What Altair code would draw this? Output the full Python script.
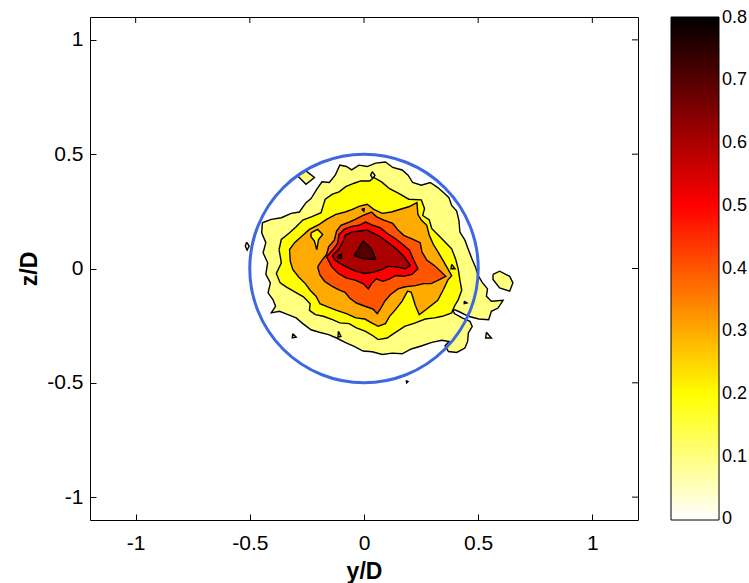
import altair as alt
import pandas as pd

# ---------------- data ----------------
x_ticks = [-1, -0.5, 0, 0.5, 1]
z_ticks = [-1, -0.5, 0, 0.5, 1]
cbar_ticks = [0.001, 0.1, 0.2, 0.3, 0.4, 0.5, 0.6, 0.7, 0.799]
contour_levels = [0.1, 0.2, 0.3, 0.4, 0.5, 0.6, 0.7]

# level 0.1 main region (y/D, z/D)
c1_y = [-0.445, -0.406, -0.362, -0.319, -0.283, -0.254, -0.232, -0.207, -0.184, -0.152,
        -0.126, -0.106, -0.077, -0.054, -0.022, 0.014, 0.051, 0.094, 0.126, 0.167,
        0.193, 0.213, 0.251, 0.290, 0.323, 0.348, 0.372, 0.384, 0.406, 0.416,
        0.420, 0.442, 0.457, 0.474, 0.488, 0.500, 0.517, 0.541, 0.536, 0.558,
        0.609, 0.587, 0.558, 0.546, 0.503,
        0.457, 0.413, 0.387, 0.396, 0.430, 0.464,
        0.474, 0.457, 0.454, 0.442, 0.406, 0.370, 0.355, 0.372, 0.341, 0.297,
        0.254, 0.207, 0.167, 0.123, 0.080, 0.036, -0.004, -0.043, -0.083, -0.120,
        -0.155, -0.196, -0.232, -0.268, -0.297, -0.333, -0.370, -0.406, -0.387, -0.399,
        -0.420, -0.410, -0.430, -0.422, -0.442, -0.430, -0.448]
c1_z = [0.200, 0.215, 0.222, 0.241, 0.247, 0.288, 0.306, 0.346, 0.379, 0.376,
        0.408, 0.452, 0.446, 0.431, 0.452, 0.446, 0.461, 0.466, 0.442, 0.431,
        0.408, 0.376, 0.364, 0.376, 0.354, 0.332, 0.310, 0.276, 0.251, 0.208,
        0.159, 0.124, 0.083, 0.039, 0.007, -0.031, -0.060, -0.089, -0.121, -0.143,
        -0.139, -0.173, -0.187, -0.224, -0.221,
        -0.209, -0.187, -0.177, -0.197, -0.216, -0.231,
        -0.253, -0.282, -0.319, -0.348, -0.367, -0.363, -0.338, -0.319, -0.314, -0.323,
        -0.338, -0.352, -0.373, -0.370, -0.376, -0.364, -0.361, -0.341, -0.323, -0.304,
        -0.289, -0.279, -0.268, -0.241, -0.216, -0.202, -0.187, -0.194, -0.165, -0.136,
        -0.107, -0.063, -0.026, 0.025, 0.069, 0.113, 0.156]

# level 0.1 islands
isl_a_y = [-0.290, -0.254, -0.217, -0.254]
isl_a_z = [0.405, 0.427, 0.398, 0.368]
isl_b_y = [0.036, 0.048, 0.039, 0.029]
isl_b_z = [0.423, 0.408, 0.393, 0.408]
isl_c_y = [-0.514, -0.503, -0.512, -0.520]
isl_c_z = [0.115, 0.098, 0.080, 0.098]
isl_d_y = [0.565, 0.594, 0.638, 0.652, 0.638, 0.594, 0.565]
isl_d_z = [-0.026, -0.012, -0.034, -0.063, -0.099, -0.085, -0.048]
isl_e_y = [0.536, 0.558, 0.533]
isl_e_z = [-0.279, -0.304, -0.304]
isl_f_y = [0.184, 0.193, 0.187]
isl_f_z = [-0.490, -0.494, -0.500]
isl_g_y = [-0.312, -0.297, -0.314]
isl_g_z = [-0.285, -0.300, -0.303]
isl_h_y = [-0.112, -0.101, -0.114]
isl_h_z = [-0.275, -0.297, -0.300]
isl_i_y = [0.439, 0.451, 0.439]
isl_i_z = [-0.143, -0.151, -0.154]

# level 0.2
c2_y = [-0.372, -0.362, -0.326, -0.297, -0.268, -0.228, -0.188, -0.170, -0.138, -0.109,
        -0.080, -0.043, -0.014, 0.025, 0.043, 0.077, 0.112, 0.152, 0.196, 0.251,
        0.265, 0.257, 0.286, 0.297, 0.326, 0.358, 0.384, 0.401, 0.413, 0.420,
        0.428, 0.413, 0.396, 0.384, 0.343, 0.309, 0.268, 0.225, 0.178, 0.138,
        0.101, 0.062, 0.039, 0.007, -0.033, -0.065, -0.106, -0.138, -0.178, -0.213,
        -0.239, -0.236, -0.265, -0.309, -0.341, -0.367, -0.384, -0.362]
c2_z = [0.083, 0.127, 0.156, 0.183, 0.212, 0.227, 0.244, 0.303, 0.325, 0.335,
        0.358, 0.373, 0.383, 0.383, 0.398, 0.379, 0.349, 0.329, 0.303, 0.300,
        0.262, 0.232, 0.212, 0.174, 0.145, 0.113, 0.086, 0.042, -0.004, -0.051,
        -0.095, -0.136, -0.165, -0.194, -0.209, -0.216, -0.221, -0.238, -0.253, -0.279,
        -0.304, -0.311, -0.294, -0.275, -0.260, -0.241, -0.238, -0.224, -0.209, -0.202,
        -0.183, -0.154, -0.124, -0.099, -0.080, -0.063, -0.022, 0.025]

# level 0.3
c3_y = [-0.323, -0.326, -0.304, -0.275, -0.239, -0.196, -0.164, -0.123, -0.083, -0.051,
        -0.019, 0.014, 0.043, 0.080, 0.120, 0.159, 0.196, 0.232, 0.236, 0.251,
        0.275, 0.286, 0.304, 0.326, 0.348, 0.384, 0.367, 0.348, 0.323, 0.275,
        0.242, 0.225, 0.207, 0.191, 0.167, 0.138, 0.112, 0.094, 0.062, 0.033,
        0.004, -0.036, -0.077, -0.120, -0.159, -0.193, -0.210, -0.236, -0.257, -0.286,
        -0.312]
c3_z = [0.032, 0.083, 0.113, 0.139, 0.171, 0.193, 0.215, 0.237, 0.247, 0.259,
        0.273, 0.281, 0.259, 0.241, 0.247, 0.259, 0.270, 0.288, 0.237, 0.212,
        0.189, 0.145, 0.105, 0.069, 0.032, -0.031, -0.051, -0.092, -0.139, -0.177,
        -0.202, -0.162, -0.104, -0.099, -0.143, -0.180, -0.209, -0.241, -0.253, -0.238,
        -0.221, -0.216, -0.197, -0.183, -0.168, -0.154, -0.121, -0.095, -0.066, -0.037,
        -0.004]
# small 0.3 spot on the right
c3b_y = [0.384, 0.399, 0.381]
c3b_z = [0.018, -0.001, -0.001]

# hole (back to level 0.2) inside the 0.3 band
hole_y = [-0.232, -0.203, -0.181, -0.199, -0.207, -0.217, -0.232]
hole_z = [0.156, 0.171, 0.149, 0.127, 0.083, 0.120, 0.139]

# level 0.4
c4_y = [-0.203, -0.184, -0.164, -0.155, -0.130, -0.120, -0.101, -0.072, -0.039, -0.004,
        0.033, 0.054, 0.087, 0.126, 0.149, 0.174, 0.210, 0.246, 0.254, 0.275,
        0.312, 0.358, 0.326, 0.294, 0.261, 0.225, 0.181, 0.149, 0.116, 0.091,
        0.072, 0.058, 0.039, 0.004, -0.033, -0.062, -0.083, -0.112, -0.141, -0.172,
        -0.193]
c4_z = [0.007, 0.037, 0.061, 0.095, 0.124, 0.164, 0.189, 0.200, 0.215, 0.232,
        0.247, 0.227, 0.212, 0.197, 0.168, 0.145, 0.130, 0.113, 0.072, 0.037,
        0.010, -0.034, -0.051, -0.066, -0.066, -0.075, -0.080, -0.089, -0.114, -0.143,
        -0.177, -0.197, -0.177, -0.165, -0.151, -0.130, -0.104, -0.092, -0.077, -0.057,
        -0.028]
c4b_y = [-0.010, 0.001, -0.001]
c4b_z = [0.259, 0.262, 0.250]

# level 0.5
c5_y = [-0.164, -0.135, -0.116, -0.109, -0.087, -0.058, -0.022, 0.007, 0.039, 0.072,
        0.101, 0.138, 0.170, 0.199, 0.217, 0.236, 0.210, 0.174, 0.138, 0.112,
        0.083, 0.054, 0.033, 0.019, -0.004, -0.039, -0.077, -0.112, -0.141]
c5_z = [0.051, 0.083, 0.110, 0.149, 0.171, 0.183, 0.189, 0.203, 0.189, 0.178,
        0.154, 0.130, 0.105, 0.080, 0.039, -0.001, -0.026, -0.034, -0.031, -0.045,
        -0.056, -0.045, -0.066, -0.089, -0.066, -0.051, -0.042, -0.022, 0.007]

# level 0.6
c6_y = [-0.138, -0.112, -0.091, -0.083, -0.054, -0.019, 0.014, 0.043, 0.072, 0.106,
        0.141, 0.174, 0.203, 0.181, 0.141, 0.106, 0.080, 0.043, 0.004, -0.036,
        -0.077, -0.109, -0.130]
c6_z = [0.057, 0.083, 0.120, 0.145, 0.159, 0.164, 0.168, 0.154, 0.139, 0.113,
        0.086, 0.054, 0.013, -0.001, 0.007, 0.010, -0.004, -0.016, -0.022, -0.012,
        0.007, 0.025, 0.039]

# level 0.7
c7_y = [-0.043, -0.004, 0.033, 0.051, 0.000]
c7_z = [0.057, 0.120, 0.086, 0.039, 0.042]
c7b_y = [-0.114, -0.097, -0.100, -0.114]
c7b_z = [0.057, 0.061, 0.045, 0.045]

circle_center_y = [0.0]
circle_center_z = [0.0]

# (name, level, draw layer, ys, zs)
polygons = [
    ("c1", 0.1, 1, c1_y, c1_z),
    ("isl_a", 0.1, 1, isl_a_y, isl_a_z),
    ("isl_b", 0.1, 1, isl_b_y, isl_b_z),
    ("isl_c", 0.1, 1, isl_c_y, isl_c_z),
    ("isl_d", 0.1, 1, isl_d_y, isl_d_z),
    ("isl_e", 0.1, 1, isl_e_y, isl_e_z),
    ("isl_f", 0.1, 1, isl_f_y, isl_f_z),
    ("isl_g", 0.1, 1, isl_g_y, isl_g_z),
    ("isl_h", 0.1, 1, isl_h_y, isl_h_z),
    ("isl_i", 0.1, 1, isl_i_y, isl_i_z),
    ("c2", 0.2, 2, c2_y, c2_z),
    ("c3", 0.3, 3, c3_y, c3_z),
    ("c3b", 0.3, 3, c3b_y, c3b_z),
    ("hole", 0.2, 4, hole_y, hole_z),
    ("c4", 0.4, 5, c4_y, c4_z),
    ("c4b", 0.4, 5, c4b_y, c4b_z),
    ("c5", 0.5, 6, c5_y, c5_z),
    ("c6", 0.6, 7, c6_y, c6_z),
    ("c7", 0.7, 8, c7_y, c7_z),
    ("c7b", 0.7, 8, c7b_y, c7b_z),
]

rows = []
for name, lev, layer, ys, zs in polygons:
    pts = list(zip(ys, zs)) + [(ys[0], zs[0])]
    for i, (a, b) in enumerate(pts):
        rows.append({"y": a, "z": b, "level": lev, "poly": name, "seq": i, "layer": layer})
df = pd.DataFrame(rows)

# ---------------- encodings ----------------
FONT = "Liberation Sans"
xscale = alt.Scale(domain=[-1.2, 1.2], nice=False, zero=False)
zscale = alt.Scale(domain=[-1.1, 1.1], nice=False, zero=False)

x_axis = alt.Axis(values=x_ticks, title="y/D", grid=False, domain=False, tickSize=6,
                  tickColor="black", offset=-6, labelPadding=12, labelFlush=False,
                  labelExpr="'' + datum.value", labelFont=FONT, labelFontSize=21,
                  labelColor="black", titleFont=FONT, titleFontSize=23,
                  titleFontWeight="bold", titleColor="black", titlePadding=7)
z_axis = alt.Axis(values=z_ticks, title="z/D", grid=False, domain=False, tickSize=6,
                  tickColor="black", offset=-6, labelPadding=7, labelFlush=False,
                  labelExpr="'' + datum.value", labelFont=FONT, labelFontSize=21,
                  labelColor="black", titleFont=FONT, titleFontSize=23,
                  titleFontWeight="bold", titleColor="black", titlePadding=5)

X = alt.X("y:Q", scale=xscale, axis=x_axis)
Z = alt.Y("z:Q", scale=zscale, axis=z_axis)

fill_scale = alt.Scale(domain=[0, 0.2, 0.5, 0.8],
                       range=["#ffffff", "#ffff00", "#ff0000", "#000000"],
                       interpolate="rgb")
legend = alt.Legend(title=None, orient="none", legendX=581, legendY=0,
                    direction="vertical", gradientLength=503, gradientThickness=48,
                    gradientStrokeColor="black", gradientStrokeWidth=1,
                    values=cbar_ticks, labelExpr="'' + round(datum.value * 10) / 10",
                    labelFont=FONT, labelFontSize=18, labelColor="black",
                    labelOffset=3, labelOverlap=False, labelBaseline="middle",
                    padding=0)
F = alt.Fill("level:Q", scale=fill_scale, legend=legend)

base = alt.Chart(df)
layers = []
for k in range(1, 9):
    layers.append(
        base.transform_filter(alt.datum.layer == k)
        .mark_line(stroke="black", strokeWidth=1.4)
        .encode(x=X, y=Z, fill=F, detail="poly:N", order="seq:Q")
    )

circle = alt.Chart(pd.DataFrame({"y": circle_center_y, "z": circle_center_z})).mark_point(
    shape="circle", size=52200, filled=False, stroke="#3d68e0", strokeWidth=3, opacity=1
).encode(x=X, y=Z)

top_ticks = alt.Chart(pd.DataFrame({"y": x_ticks})).mark_rule(color="black", strokeWidth=1).encode(
    x=X, y=alt.value(0), y2=alt.value(6))
right_ticks = alt.Chart(pd.DataFrame({"z": z_ticks})).mark_rule(color="black", strokeWidth=1).encode(
    y=Z, x=alt.value(542), x2=alt.value(548))

chart = alt.layer(*layers, circle, top_ticks, right_ticks).properties(
    width=548, height=503,
    autosize=alt.AutoSizeParams(type="none"),
    padding={"left": 90, "top": 17, "right": 111, "bottom": 63},
    background="white",
).configure_view(stroke="black", strokeWidth=1)

chart.save("out.html", embed_options={"renderer": "svg", "actions": False})
